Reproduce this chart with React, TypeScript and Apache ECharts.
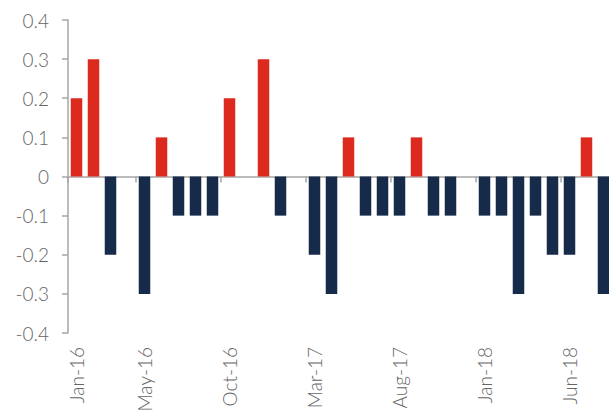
import React, { useEffect, useRef } from "react";
import * as echarts from "echarts";

const categories = [
  "Jan-16","Feb-16","Mar-16","Apr-16","May-16","Jun-16","Jul-16","Aug-16","Sep-16","Oct-16","Nov-16","Dec-16",
  "Jan-17","Feb-17","Mar-17","Apr-17","May-17","Jun-17","Jul-17","Aug-17","Sep-17","Oct-17","Nov-17","Dec-17",
  "Jan-18","Feb-18","Mar-18","Apr-18","May-18","Jun-18","Jul-18","Aug-18",
];

const values = [
  0.2, 0.3, -0.2, 0, -0.3, 0.1, -0.1, -0.1, -0.1, 0.2, 0, 0.3,
  -0.1, 0, -0.2, -0.3, 0.1, -0.1, -0.1, -0.1, 0.1, -0.1, -0.1, 0,
  -0.1, -0.1, -0.3, -0.1, -0.2, -0.2, 0.1, -0.3,
];

const labelledIndices = [0, 4, 9, 14, 19, 24, 29];

const POS_COLOR = "#dc2a1f";
const NEG_COLOR = "#162b49";
const AXIS_COLOR = "#a6a6a6";
const TEXT_COLOR = "#666666";
const FONT = "Lato";

export default function App() {
  const ref = useRef<HTMLDivElement>(null);
  useEffect(() => {
    if (!ref.current) return;
    const chart = echarts.init(ref.current, null, { renderer: "svg" });
    const showIdx = (i: number) => labelledIndices.includes(i);
    chart.setOption({
      animation: false,
      grid: { left: 68, right: -3, top: 20, bottom: 77, containLabel: false, outerBoundsMode: "none" },
      xAxis: {
        type: "category",
        data: categories,
        boundaryGap: true,
        axisLine: { onZero: true, lineStyle: { color: AXIS_COLOR, width: 1.5 } },
        axisTick: { show: true, interval: (i: number) => showIdx(i), length: 6, lineStyle: { color: AXIS_COLOR, width: 1.5 } },
        axisLabel: {
          interval: (i: number) => showIdx(i),
          rotate: 90,
          margin: 14,
          fontFamily: FONT,
          fontWeight: 300,
          fontSize: 19,
          color: TEXT_COLOR,
        },
        splitLine: { show: false },
      },
      yAxis: {
        type: "value",
        min: -0.4,
        max: 0.4,
        interval: 0.1,
        axisLine: { show: true, lineStyle: { color: AXIS_COLOR, width: 1.5 } },
        axisTick: { show: true, length: 6, lineStyle: { color: AXIS_COLOR, width: 1.5 } },
        axisLabel: {
          margin: 19,
          fontFamily: FONT,
          fontWeight: 300,
          fontSize: 19,
          color: TEXT_COLOR,
          formatter: (v: number) => {
            const r = Math.round(v * 10) / 10;
            return r === 0 ? "0" : r.toFixed(1);
          },
        },
        splitLine: { show: false },
      },
      series: [
        {
          type: "bar",
          barWidth: 11.5,
          data: values.map((v) => ({
            value: v,
            itemStyle: { color: v >= 0 ? POS_COLOR : NEG_COLOR },
          })),
        },
      ],
    });
    return () => chart.dispose();
  }, []);
  return <div ref={ref} style={{ width: 609, height: 410, position: "absolute", left: 0, top: 0 }} />;
}
